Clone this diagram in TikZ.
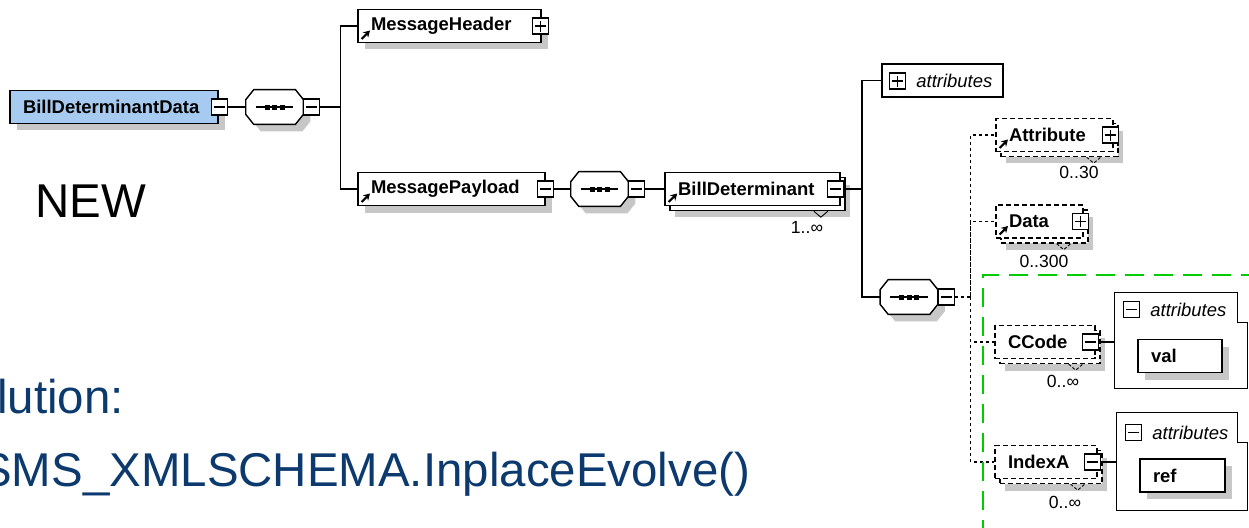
\documentclass[tikz,border=0pt]{standalone}
\usepackage{fontspec}
\setmainfont{Liberation Sans}
\usepackage{tikz}
\usetikzlibrary{shadows,arrows.meta,positioning,calc}

\definecolor{elblue}{RGB}{166,202,240}
\definecolor{slideblue}{RGB}{12,58,110}
\definecolor{hlgreen}{RGB}{0,204,0}

\newcommand{\elfont}{\fontsize{10.5}{12}\selectfont\bfseries}
\newcommand{\smfont}{\fontsize{10}{12}\selectfont}
\newcommand{\bigfont}{\fontsize{27}{32}\selectfont}

\pgfdeclarelayer{paper}
\pgfdeclarelayer{shade}
\pgfsetlayers{paper,shade,main}

\tikzset{
    semithick,
    elbase/.style={draw, fill=white, line width=0.8pt, minimum height=0.66cm,
        inner xsep=0.26cm, inner ysep=0pt, align=left, font=\elfont},
    el/.style={elbase, drop shadow={shadow xshift=0.14cm, shadow yshift=-0.14cm, fill=black!22, opacity=1}},
    elmulti/.style={elbase,
        drop shadow={shadow xshift=0.2cm, shadow yshift=-0.24cm, fill=black!22, opacity=1},
        copy shadow={shadow xshift=0.1cm, shadow yshift=-0.1cm, draw=black, fill=white, line width=0.8pt}},
    elopt/.style={elbase, dash pattern=on 0.1cm off 0.06cm,
        drop shadow={shadow xshift=0.2cm, shadow yshift=-0.24cm, fill=black!22, opacity=1},
        copy shadow={shadow xshift=0.1cm, shadow yshift=-0.1cm, draw=black, fill=white,
            line width=0.8pt, dash pattern=on 0.1cm off 0.06cm}},
    refmark/.style={path picture={\draw[solid, line width=1.2pt, -{Stealth[length=0.13cm, width=0.15cm]}]
        ([shift={(0.07cm,0.07cm)}]path picture bounding box.south west) -- ++(0.17cm,0.17cm);}},
    toggle/.style={draw, solid, fill=white, line width=0.6pt, minimum size=0.32cm, inner sep=0pt},
    tminus/.style={toggle, path picture={\draw[line width=0.6pt]
        ([xshift=0.05cm]path picture bounding box.west) -- ([xshift=-0.05cm]path picture bounding box.east);}},
    tplus/.style={toggle, path picture={\draw[line width=0.6pt]
        ([xshift=0.05cm]path picture bounding box.west) -- ([xshift=-0.05cm]path picture bounding box.east)
        ([yshift=0.05cm]path picture bounding box.south) -- ([yshift=-0.05cm]path picture bounding box.north);}},
    seq/.style={minimum width=1.14cm, minimum height=0.68cm, inner sep=0pt},
    octagon/.style={line width=0.8pt, fill=white},
    attbox/.style={draw, line width=0.8pt, minimum height=0.66cm, inner sep=0pt},
    grp/.style={minimum width=2.64cm, minimum height=1.9cm, inner sep=0pt},
    attlabel/.style={inner sep=0pt, font=\fontsize{10.5}{12}\selectfont\itshape},
    mult/.style={inner sep=0pt, font=\smfont},
    conn/.style={line width=0.7pt},
    optconn/.style={line width=0.6pt, dash pattern=on 0.06cm off 0.06cm},
    hilite/.style={hlgreen, line width=1.7pt, dash pattern=on 0.38cm off 0.2cm},
    big/.style={inner sep=0pt, font=\bigfont}
}

\begin{document}
\begin{tikzpicture}[x=0.02cm, y=-0.02cm]
    \begin{pgfonlayer}{paper}
        \path[fill=white, use as bounding box] (0,0) rectangle (1249,528);
    \end{pgfonlayer}
    \clip (0,0) rectangle (1249,528);

    % root element and its sequence
    \node[el, fill=elblue, text width=3.64cm] (bdd) at (114,107) {BillDeterminantData};
    \node[tminus, right=-0.16cm of bdd.east] (bddt) {};
    \node[seq, right=0.36cm of bddt] (s1) {};
    \node[tminus, right=0pt of s1] (s1t) {};

    \node[el, refmark, text width=3.14cm] (hdr) at (449.5,26) {MessageHeader};
    \node[tplus, right=-0.2cm of hdr.east] (hdrt) {};
    \node[el, refmark, text width=3.22cm] (pay) at (451.5,189) {MessagePayload};
    \node[tminus, right=-0.18cm of pay.east] (payt) {};
    \node[seq, right=0.34cm of payt] (s2) {};
    \node[tminus, right=0pt of s2] (s2t) {};

    \node[elmulti, refmark, text width=2.98cm, right=0.38cm of s2t] (bd) {BillDeterminant};
    \node[tminus, right=-0.28cm of bd.east] (bdt) {};
    \node[mult] (bdm) at (807,227) {1..∞};

    % attributes of BillDeterminant
    \node[attbox, minimum width=2.42cm] (att0) at (942.5,80.5) {};
    \node[tplus] (att0t) at (897.5,81) {};
    \node[attlabel, right=0.2cm of att0t] (att0l) {attributes};

    \node[seq] (s3) at (909,297) {};
    \node[tminus, right=0pt of s3] (s3t) {};

    % sequence compositors: octagon, shadow and dotted bar
    \begin{pgfonlayer}{shade}
    \foreach \s in {s1,s2,s3} {
        \fill[black!22, transform canvas={shift={(0.14cm,-0.14cm)}}]
            ([yshift=-0.2cm]\s.north west) -- ([xshift=0.16cm]\s.north west)
            -- ([xshift=-0.16cm]\s.north east) -- ([yshift=-0.2cm]\s.north east)
            -- ([yshift=0.2cm]\s.south east) -- ([xshift=-0.16cm]\s.south east)
            -- ([xshift=0.16cm]\s.south west) -- ([yshift=0.2cm]\s.south west) -- cycle;
        \filldraw[octagon]
            ([yshift=-0.2cm]\s.north west) -- ([xshift=0.16cm]\s.north west)
            -- ([xshift=-0.16cm]\s.north east) -- ([yshift=-0.2cm]\s.north east)
            -- ([yshift=0.2cm]\s.south east) -- ([xshift=-0.16cm]\s.south east)
            -- ([xshift=0.16cm]\s.south west) -- ([yshift=0.2cm]\s.south west) -- cycle;
        \draw[line width=0.6pt] ([xshift=0.2cm]\s.west) -- ([xshift=-0.2cm]\s.east);
        \foreach \d in {-0.15,0,0.15}
            \fill ([xshift=\d cm]\s.center) +(-0.05cm,-0.05cm) rectangle +(0.05cm,0.05cm);
    }
    \end{pgfonlayer}

    % optional children
    \node[elopt, refmark, text width=1.82cm] (attr) at (1054.5,135) {Attribute};
    \node[tplus, right=-0.24cm of attr.east] (attrt) {};
    \node[mult] (attrm) at (1079,172) {0..30};

    \node[elopt, refmark, text width=1.22cm] (data) at (1039.5,221.5) {Data};
    \node[tplus, right=-0.24cm of data.east] (datat) {};
    \node[mult] (datam) at (1044,261) {0..300};

    \node[elopt, text width=1.48cm] (cc) at (1045,342) {CCode};
    \node[tminus, right=-0.28cm of cc.east] (cct) {};
    \node[mult] (ccm) at (1063,381) {0..∞};

    \node[elopt, text width=1.52cm] (ix) at (1046,462) {IndexA};
    \node[tminus, right=-0.28cm of ix.east] (ixt) {};
    \node[mult] (ixm) at (1065,502) {0..∞};

    % attribute groups
    \node[grp] (cca) at (1181,340.5) {};
    \node[tminus] (ccat) at (1131.5,309.5) {};
    \node[attlabel, right=0.2cm of ccat] (ccal) {attributes};
    \node[el, text width=1.16cm] (val) at (1180,356) {val};

    \node[grp, minimum width=2.6cm, minimum height=1.94cm] (ixa) at (1182,461.5) {};
    \node[tminus] (ixat) at (1133.5,432.5) {};
    \node[attlabel, right=0.2cm of ixat] (ixal) {attributes};
    \node[el, text width=1.18cm] (ref) at (1182.5,475.5) {ref};

    \foreach \g in {cca,ixa}
        \draw[line width=0.8pt] (\g.north west) -- ([xshift=-0.2cm]\g.north east)
            -- ([xshift=-0.2cm,yshift=-0.6cm]\g.north east) -- ([yshift=-0.6cm]\g.north east)
            -- (\g.south east) -- (\g.south west) -- cycle;

    % connectors
    \coordinate (b1) at ([xshift=0.4cm]s1t.east);
    \draw[conn] (bddt) -- (s1) (s1t) -- (b1);
    \draw[conn] (b1) |- (hdr);
    \draw[conn] (b1) |- (pay);
    \draw[conn] (payt) -- (s2) (s2t) -- (bd);

    \coordinate (b2) at ([xshift=0.36cm]bdt.east);
    \draw[conn] (bdt) -- (b2) |- (att0);
    \draw[conn] (b2) |- (s3);

    \coordinate (b3) at ([xshift=0.32cm]s3t.east);
    \draw[optconn] (s3t) -- (b3) |- (attr);
    \draw[optconn] (b3) |- (data);
    \draw[optconn] (b3) |- (cc);
    \draw[optconn] (b3) |- (ix);

    \draw[conn] (cct) -- (cct -| cca.west);
    \draw[conn] (ixt) -- (ixt -| ixa.west);

    % occurrence ticks
    \draw[line width=0.5pt] ([shift={(-0.54cm,-0.1cm)}]bd.south east) -- ++(0.14cm,-0.12cm) -- ++(0.14cm,0.12cm);
    \foreach \n in {attr,data,cc,ix}
        \draw[line width=0.5pt, dash pattern=on 0.06cm off 0.04cm]
            ([shift={(-0.54cm,-0.1cm)}]\n.south east) -- ++(0.14cm,-0.12cm) -- ++(0.14cm,0.12cm);

    % highlighted region
    \draw[hilite] (1260,275) -| (983,540);

    % slide text
    \node[big, anchor=base west] (new) at (35,217) {NEW};
    \node[big, slideblue, anchor=base west] (evo) at (-3,413) {lution:};
    \node[big, slideblue, anchor=base west] (cmd) at (-20,486) {SMS\_XMLSCHEMA.InplaceEvolve()};
\end{tikzpicture}
\end{document}
